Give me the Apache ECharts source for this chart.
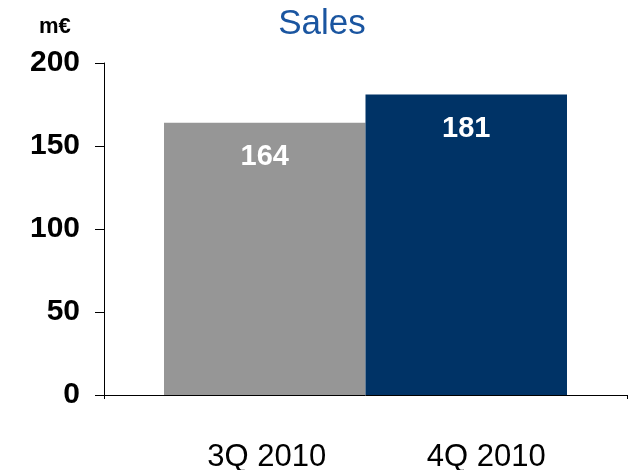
<!DOCTYPE html>
<html>
<head>
<meta charset="utf-8">
<script src="https://cdn.jsdelivr.net/npm/echarts@6/dist/echarts.min.js"></script>
<style>
  html, body { margin: 0; padding: 0; background: #fff; }
  #chart { width: 641px; height: 470px; }
</style>
</head>
<body>
<div id="chart"></div>
<script>
// data
const categories = ["3Q 2010", "4Q 2010"];
const sales = [164, 181];
const barColors = ["#969696", "#003366"];
const yTicks = [0, 50, 100, 150, 200];

const font = "Liberation Sans, Arial, sans-serif";
const myChart = echarts.init(document.getElementById("chart"));

const option = {
  animation: false,
  title: [
    {
      text: "Sales",
      left: 322,
      textAlign: "center",
      top: 7,
      padding: 0,
      textStyle: { color: "#1a55a0", fontSize: 35, fontWeight: "normal", fontFamily: font }
    },
    {
      text: "m€",
      left: 39,
      top: 16,
      padding: 0,
      textStyle: { color: "#000", fontSize: 22, fontWeight: "bold", fontFamily: font }
    }
  ],
  // grid 0 draws the axes, grid 1 holds the bars in the middle
  grid: [
    { left: 104, right: 14, top: 63, bottom: 75, outerBoundsMode: "none" },
    { left: 164, right: 74, top: 63, bottom: 75, outerBoundsMode: "none" }
  ],
  xAxis: [
    {
      gridIndex: 0,
      type: "category",
      data: [""],
      boundaryGap: true,
      axisLine: { lineStyle: { color: "#000", width: 1 } },
      axisTick: { show: true, length: 4, lineStyle: { color: "#000" } },
      axisLabel: { show: false }
    },
    {
      gridIndex: 1,
      type: "category",
      data: categories,
      axisLine: { show: false },
      axisTick: { show: false },
      axisLabel: {
        interval: 0,
        hideOverlap: false,
        margin: 47,
        color: "#000",
        fontFamily: font,
        fontSize: 31,
        formatter: function (v, i) {
          return i === 1 ? "{b|" + v + "}" : "{a|" + v + "}";
        },
        rich: {
          a: { fontSize: 31, fontFamily: font, color: "#000", padding: [0, 0, 0, 4] },
          b: { fontSize: 31, fontFamily: font, color: "#000", padding: [0, 0, 0, 40] }
        }
      }
    }
  ],
  yAxis: [
    {
      gridIndex: 0,
      type: "value",
      min: yTicks[0],
      max: yTicks[yTicks.length - 1],
      interval: yTicks[1] - yTicks[0],
      axisLine: { show: true, lineStyle: { color: "#000", width: 1 } },
      axisTick: { show: true, length: 9, lineStyle: { color: "#000" } },
      splitLine: { show: false },
      axisLabel: {
        margin: 24,
        color: "#000",
        fontFamily: font,
        fontSize: 30,
        fontWeight: "bold"
      }
    },
    {
      gridIndex: 1,
      type: "value",
      min: yTicks[0],
      max: yTicks[yTicks.length - 1],
      show: false
    }
  ],
  series: [
    {
      type: "bar",
      xAxisIndex: 1,
      yAxisIndex: 1,
      barWidth: "100%",
      data: sales.map((v, i) => ({ value: v, itemStyle: { color: barColors[i] } })),
      label: {
        show: true,
        position: "insideTop",
        distance: 20,
        color: "#fff",
        fontFamily: font,
        fontSize: 29,
        fontWeight: "bold"
      }
    }
  ]
};

myChart.setOption(option);
</script>
</body>
</html>
